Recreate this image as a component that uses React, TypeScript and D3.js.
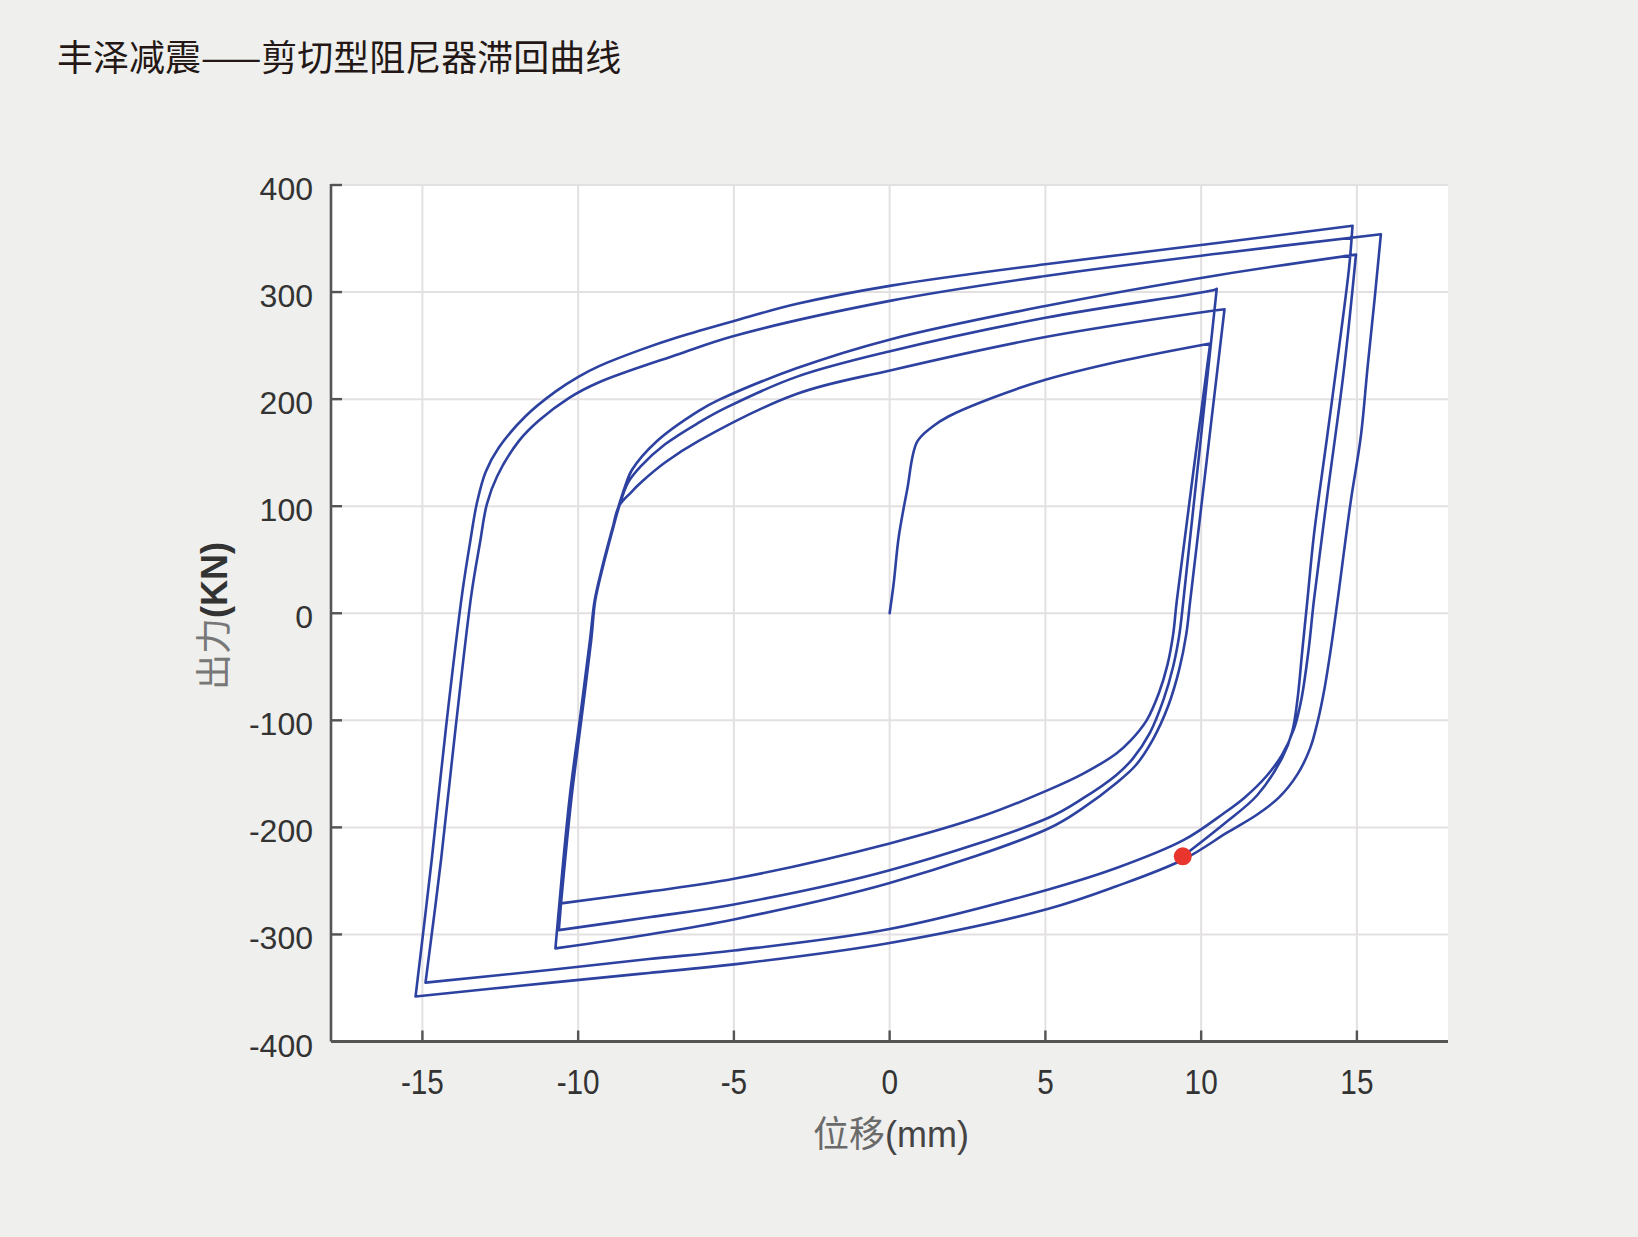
import React from "react";
import * as d3 from "d3";

type Pt = [number, number];

const W = 1638;
const H = 1237;

const title = "丰泽减震——剪切型阻尼器滞回曲线";
const xLabel = "位移";
const xUnit = "(mm)";
const yLabel = "出力";
const yUnit = "(KN)";
const xTicks = [-15, -10, -5, 0, 5, 10, 15];
const yTicks = [-400, -300, -200, -100, 0, 100, 200, 300, 400];

// displacement (mm), force (kN), in loading order
const initialLoading: Pt[] = [
  [0, 0], [0.13, 28], [0.29, 71], [0.56, 115], [0.88, 160], [1.36, 174], [1.9, 184],
  [3.37, 202], [5, 218], [7.5, 236], [10.29, 252],
];
const smallDown1: Pt[] = [
  [10.29, 252], [9.22, 12], [9.1, -20], [8.92, -48], [8.65, -74], [8.25, -100], [7.7, -120],
  [7.28, -131], [6.2, -150], [5.1, -165], [3.03, -189], [0, -215], [-5, -248],
  [-7.73, -260], [-10.55, -271],
];
const smallUp1: Pt[] = [
  [-10.55, -271], [-10.22, -174], [-9.9, -100], [-9.58, -25], [-9.45, 12], [-9.2, 44],
  [-8.92, 75], [-8.68, 100], [-8.4, 122], [-8.0, 137], [-7.2, 158], [-6.13, 178],
  [-5.25, 192], [-2.97, 221], [0.05, 245], [5, 276], [10.42, 302], [10.5, 303],
];
const smallDown2: Pt[] = [
  [10.5, 303], [9.43, 12], [9.3, -20], [9.1, -50], [8.8, -80], [8.35, -112], [7.8, -136],
  [7.28, -151], [6.2, -173], [5.1, -191], [0, -240], [-5, -272], [-7.73, -284],
  [-10.62, -296],
];
const smallUp2: Pt[] = [
  [-10.62, -296], [-10.25, -174], [-9.92, -100], [-9.6, -25], [-9.46, 12], [-9.21, 44],
  [-8.93, 75], [-8.69, 100], [-8.3, 113], [-7.95, 123], [-7.2, 141], [-6.13, 161],
  [-2.97, 205], [0.05, 227], [5, 258], [10.48, 283], [10.75, 284],
];
const smallDown3: Pt[] = [
  [10.75, 284], [9.65, 12], [9.52, -20], [9.3, -52], [8.95, -86], [8.45, -118], [7.9, -142],
  [7.3, -158], [6.2, -182], [5.1, -201], [0, -252], [-5, -286], [-7.73, -300],
  [-10.73, -313],
];
const largeUp1: Pt[] = [
  [-10.73, -313], [-10.28, -174], [-9.95, -100], [-9.62, -25], [-9.47, 12], [-9.22, 44],
  [-8.94, 75], [-8.7, 100], [-8.5, 118], [-8.27, 134], [-7.5, 160], [-6.13, 189],
  [-5.5, 199], [-2.97, 229], [0.05, 256], [5, 287], [10.58, 316], [14.97, 335],
];
const largeDown1: Pt[] = [
  [14.97, 335], [14.59, 229], [14.05, 110], [13.62, 12], [13.45, -34], [13.22, -80],
  [12.98, -108], [12.6, -132], [12.1, -152], [11.4, -172], [10.72, -187], [9.43, -212],
  [7.28, -238], [5.1, -258], [0, -295], [-5, -315], [-7.73, -323], [-10.86, -333],
  [-14.9, -345],
];
const largeUp2: Pt[] = [
  [-14.9, -345], [-14.4, -230], [-13.93, -106], [-13.42, 19], [-13.15, 66], [-12.93, 102],
  [-12.6, 128], [-11.9, 161], [-11.26, 180], [-10.3, 201], [-9.31, 216], [-6.78, 242],
  [-5, 259], [0.05, 292], [5, 315], [10.58, 336], [15.77, 354],
];
const largeDown2: Pt[] = [
  [15.77, 354], [15.56, 291], [15.34, 229], [15.13, 166], [14.8, 104], [14.38, 12],
  [14.16, -34], [13.95, -72], [13.75, -100], [13.5, -126], [13.1, -150], [12.5, -172],
  [11.8, -188], [10.83, -205], [9.43, -230], [7.28, -255], [5.1, -276], [0, -308],
  [-5, -328], [-7.73, -336], [-10.86, -345], [-15.22, -358],
];
const largeUp3: Pt[] = [
  [-15.22, -358], [-14.7, -230], [-14.24, -106], [-13.72, 19], [-13.47, 66], [-13.25, 103],
  [-12.97, 132], [-12.54, 155], [-11.69, 184], [-10.73, 207], [-9.98, 221], [-9.31, 231],
  [-8, 246], [-6.78, 258], [-5, 273], [-2.97, 289], [0.05, 306], [5, 326], [10.58, 346],
  [14.86, 362],
];
const largeDown3: Pt[] = [
  [14.86, 362], [14.75, 323], [14.48, 260], [14.05, 166], [13.62, 73], [13.41, 12],
  [13.25, -34], [13.09, -81], [12.92, -111], [12.6, -135], [11.8, -170], [10.72, -197],
  [9.41, -227],
];
const endPoint: Pt = [9.41, -227];

const branches: Pt[][] = [
  initialLoading, smallDown1, smallUp1, smallDown2, smallUp2, smallDown3,
  largeUp1, largeDown1, largeUp2, largeDown2, largeUp3, largeDown3,
];

export default function App() {
  const plot = { left: 331, right: 1448, top: 185, bottom: 1041.5 };
  const x = d3.scaleLinear().domain([-15, 15]).range([422.4, 1356.9]);
  const y = d3.scaleLinear().domain([-400, 400]).range([plot.bottom, plot.top]);

  const line = d3
    .line<Pt>()
    .x((d) => x(d[0]))
    .y((d) => y(d[1]))
    .curve(d3.curveCatmullRom.alpha(0.5));
  const d = branches.map((b) => line(b) || "").join(" ");

  const gridColor = "#e3e0e2";
  const axisColor = "#555555";
  const tickFont = "'Liberation Sans', Arial, sans-serif";
  const cjkFont = "'Noto Sans CJK SC', sans-serif";

  return (
    <svg
      width={W}
      height={H}
      viewBox={`0 0 ${W} ${H}`}
      style={{ position: "absolute", left: 0, top: 0, display: "block" }}
    >
      <rect x={0} y={0} width={W} height={H} fill="#efefed" />
      <text x={57} y={71} fontFamily={cjkFont} fontSize={36} fill="#231815">
        {title}
      </text>

      <rect
        x={plot.left}
        y={plot.top}
        width={plot.right - plot.left}
        height={plot.bottom - plot.top}
        fill="#ffffff"
      />
      {/* grid */}
      {xTicks.map((t) => (
        <line
          key={"gx" + t}
          x1={x(t)}
          x2={x(t)}
          y1={plot.top}
          y2={plot.bottom}
          stroke={gridColor}
          strokeWidth={2}
        />
      ))}
      {yTicks.map((t) => (
        <line
          key={"gy" + t}
          x1={plot.left}
          x2={plot.right}
          y1={y(t)}
          y2={y(t)}
          stroke={gridColor}
          strokeWidth={2}
        />
      ))}

      {/* data */}
      <path
        d={d}
        fill="none"
        stroke="#2d42a0"
        strokeWidth={2.6}
        strokeLinejoin="round"
        strokeLinecap="round"
      />
      <circle cx={x(endPoint[0])} cy={y(endPoint[1])} r={9} fill="#e8362e" />

      {/* axes */}
      <line x1={plot.left} x2={plot.left} y1={plot.top - 1} y2={plot.bottom} stroke={axisColor} strokeWidth={2.6} />
      <line x1={plot.left} x2={plot.right} y1={plot.bottom} y2={plot.bottom} stroke={axisColor} strokeWidth={2.8} />
      {yTicks.map((t) => (
        <line key={"ty" + t} x1={plot.left} x2={plot.left + 11} y1={y(t)} y2={y(t)} stroke={axisColor} strokeWidth={2.4} />
      ))}
      {xTicks.map((t) => (
        <line key={"tx" + t} x1={x(t)} x2={x(t)} y1={plot.bottom} y2={plot.bottom - 11} stroke={axisColor} strokeWidth={2.4} />
      ))}

      {/* tick labels */}
      {yTicks.map((t) => (
        <text
          key={"ly" + t}
          x={313}
          y={y(t) + 15}
          textAnchor="end"
          fontFamily={tickFont}
          fontSize={32}
          fill="#333"
        >
          {String(t)}
        </text>
      ))}
      {xTicks.map((t) => (
        <text
          key={"lx" + t}
          transform={`translate(${x(t)},${1094}) scale(0.85,1)`}
          textAnchor="middle"
          fontFamily={tickFont}
          fontSize={35}
          fill="#333"
        >
          {String(t)}
        </text>
      ))}

      {/* axis titles */}
      <text x={891} y={1147} textAnchor="middle" fontSize={36}>
        <tspan fontFamily={cjkFont} fill="#6a6a6a">{xLabel}</tspan>
        <tspan fontFamily={tickFont} fill="#444">{xUnit}</tspan>
      </text>
      <text
        transform="translate(227,616) rotate(-90)"
        textAnchor="middle"
        fontSize={36}
      >
        <tspan fontFamily={cjkFont} fill="#777">{yLabel}</tspan>
        <tspan fontFamily={tickFont} fontWeight="bold" fill="#333">{yUnit}</tspan>
      </text>
    </svg>
  );
}
